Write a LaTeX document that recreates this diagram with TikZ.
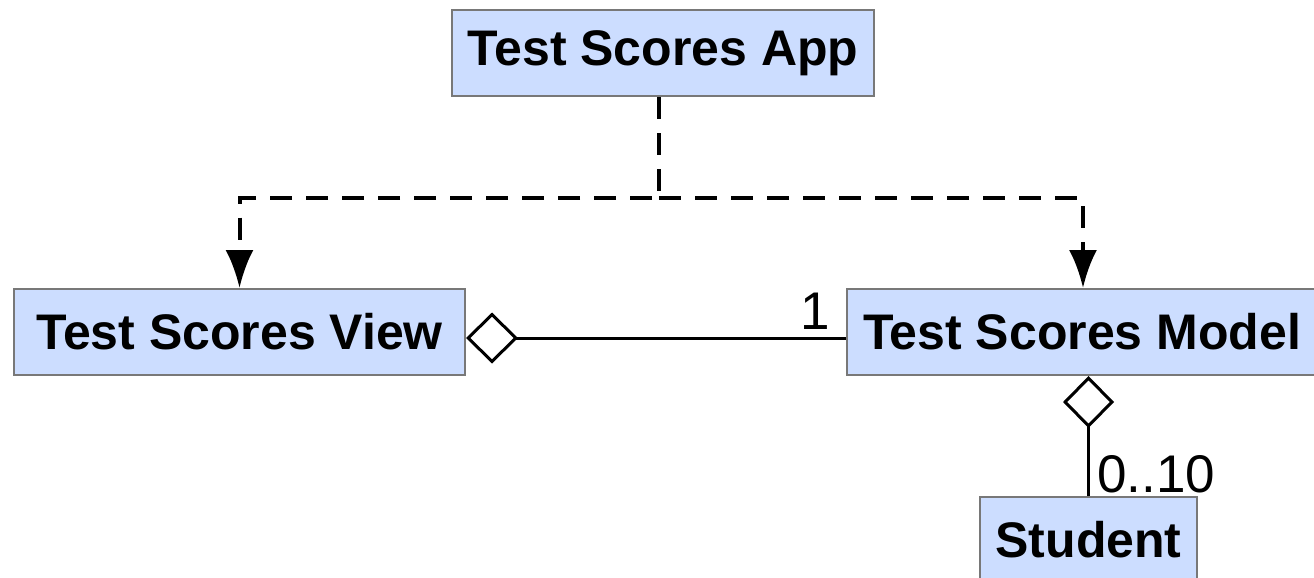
\documentclass[tikz,border=0pt]{standalone}
\usepackage{fontspec}
\setmainfont{Liberation Sans}
\usetikzlibrary{arrows.meta}
\definecolor{boxfill}{RGB}{204,221,255}
\definecolor{boxline}{RGB}{120,120,120}
\tikzset{
  classbox/.style={draw=boxline, line width=2pt, fill=boxfill, rectangle, inner sep=0pt,
    font=\fontsize{50}{55}\selectfont\bfseries, text=black},
  deparrow/.style={line width=4pt, dash pattern=on 22pt off 14pt,
    -{Latex[length=38pt,width=28pt]}},
  aggline/.style={line width=3pt, {Diamond[open,length=52pt,width=51pt,line width=3pt]}-},
  mult/.style={font=\fontsize{53}{58}\selectfont, inner sep=0pt}
}
\begin{document}
\begin{tikzpicture}[x=1pt,y=-1pt]
\useasboundingbox (0,0) rectangle (1314,578);
\node[classbox, minimum width=422pt, minimum height=86pt] (app) at (663,53) {Test Scores App};
\node[classbox, minimum width=451pt, minimum height=86pt] (view) at (239.5,332) {Test Scores View};
\node[classbox, minimum width=472pt, minimum height=86pt] (model) at (1083,332) {\makebox[440pt][l]{Test Scores Model}};
\node[classbox, minimum width=217pt, minimum height=86pt, anchor=north] (student) at (1088.5,496) {Student};
\coordinate (bend) at (659,198);
\draw[deparrow] ([xshift=-4pt]app.south) -- (bend) -| (view.north);
\draw[deparrow] (bend) -| (model.north);
\draw[aggline] ([yshift=-6pt]view.east) -- ([yshift=-6pt]model.west);
\draw[aggline] (student.north |- model.south) -- (student.north);
\node[mult, anchor=south east] (one) at ([xshift=-16pt,yshift=2pt]model.west) {1};
\node[mult, anchor=south west] (many) at ([xshift=8.5pt,yshift=3pt]student.north) {0..10};
\end{tikzpicture}
\end{document}
